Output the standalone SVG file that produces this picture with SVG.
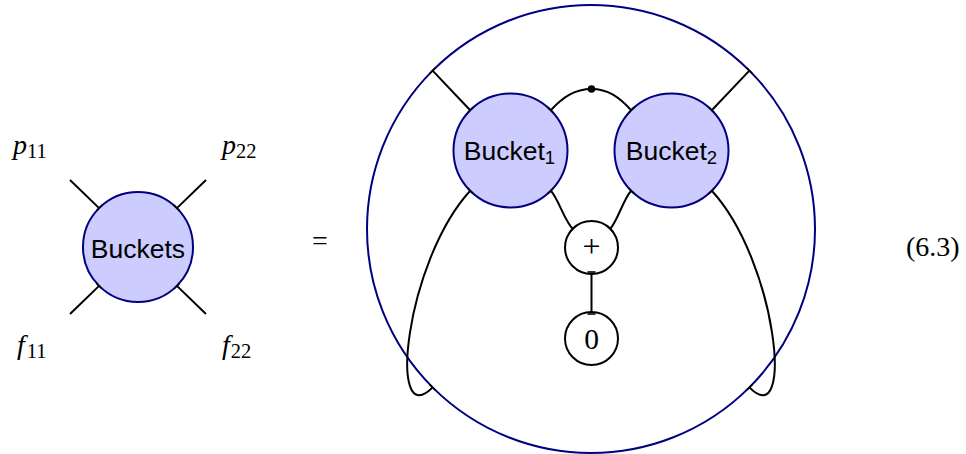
<svg xmlns="http://www.w3.org/2000/svg" width="966" height="454" viewBox="0 0 966 454">
<style>
.bucket{fill:#ccccff;stroke:#000080;stroke-width:2}
.outer{fill:none;stroke:#000080;stroke-width:2}
.op{fill:#ffffff;stroke:#000000;stroke-width:2}
.wire{fill:none;stroke:#000000;stroke-width:2}
.tick{stroke:#000000;stroke-width:1.6}
.sans{font-family:"Liberation Sans","DejaVu Sans",sans-serif;font-size:26.5px;fill:#000}
.math{font-family:"Liberation Serif","DejaVu Serif",serif;font-size:28px;fill:#000}
.it{font-style:italic}
.sub{font-size:20.5px}
.ssub{font-size:18.5px}
</style>
<rect width="966" height="454" fill="#ffffff"/>

<g id="outer-circle">
<circle class="outer" cx="591" cy="229" r="224"/>
</g>

<g id="connectors">
<line class="wire" x1="70" y1="180" x2="99.1" y2="208.1"/>
<line class="wire" x1="206" y1="180" x2="176.9" y2="208.1"/>
<line class="wire" x1="70" y1="314" x2="99.1" y2="285.9"/>
<line class="wire" x1="206" y1="314" x2="176.9" y2="285.9"/>
<line class="wire" x1="432.6" y1="70.6" x2="470.2" y2="110.2"/>
<line class="wire" x1="749.4" y1="70.6" x2="711.8" y2="110.2"/>
<path class="wire" d="M550.8,110.2 C563,97 575,89 591.5,89 C608,89 619,97 631.2,110.2"/>
<path class="wire" d="M550.8,190.8 C558,198 565,222 572.8,228.8"/>
<path class="wire" d="M631.2,190.8 C624,198 617,222 610.2,228.8"/>
<line class="wire" x1="591.5" y1="272" x2="591.5" y2="314"/>
<path class="wire" d="M470.2,190.8 C405,262 387,434 432.6,387.4"/>
<path class="wire" d="M711.8,190.8 C777,262 795,434 749.4,387.4"/>
</g>

<g id="node-buckets">
<circle class="bucket" cx="138" cy="247" r="55"/>
<text class="sans" x="138" y="258" text-anchor="middle">Buckets</text>
</g>

<g id="node-bucket1">
<circle class="bucket" cx="510.5" cy="150.5" r="57"/>
<text class="sans" x="509.5" y="160" text-anchor="middle">Bucket<tspan class="ssub" dy="4">1</tspan></text>
</g>

<g id="node-bucket2">
<circle class="bucket" cx="671.5" cy="150.5" r="57"/>
<text class="sans" x="671.5" y="160" text-anchor="middle">Bucket<tspan class="ssub" dy="4">2</tspan></text>
</g>

<g id="node-plus">
<circle class="op" cx="591.5" cy="247.5" r="26.5"/>
<text class="math" x="591.5" y="257" text-anchor="middle" style="font-size:32px">+</text>
</g>

<g id="node-zero">
<circle class="op" cx="591.5" cy="338.5" r="26.5"/>
<text class="math" x="591.5" y="348.5" text-anchor="middle" style="font-size:29.5px">0</text>
</g>

<g id="node-dot">
<circle cx="591.5" cy="89" r="3.8" fill="#000"/>
</g>

<g id="ticks">
<line class="tick" x1="96.3" y1="210.9" x2="101.9" y2="205.3"/>
<line class="tick" x1="174.1" y1="205.3" x2="179.7" y2="210.9"/>
<line class="tick" x1="96.3" y1="283.1" x2="101.9" y2="288.7"/>
<line class="tick" x1="174.1" y1="288.7" x2="179.7" y2="283.1"/>

<line class="tick" x1="467.4" y1="113.0" x2="473.0" y2="107.4"/>
<line class="tick" x1="548.0" y1="107.4" x2="553.6" y2="113.0"/>
<line class="tick" x1="467.4" y1="188.0" x2="473.0" y2="193.6"/>
<line class="tick" x1="548.0" y1="193.6" x2="553.6" y2="188.0"/>

<line class="tick" x1="628.4" y1="113.0" x2="634.0" y2="107.4"/>
<line class="tick" x1="709.0" y1="107.4" x2="714.6" y2="113.0"/>
<line class="tick" x1="628.4" y1="188.0" x2="634.0" y2="193.6"/>
<line class="tick" x1="709.0" y1="193.6" x2="714.6" y2="188.0"/>

<line class="tick" x1="429.8" y1="73.4" x2="435.4" y2="67.8"/>
<line class="tick" x1="746.6" y1="67.8" x2="752.2" y2="73.4"/>
<line class="tick" x1="429.8" y1="384.6" x2="435.4" y2="390.2"/>
<line class="tick" x1="746.6" y1="390.2" x2="752.2" y2="384.6"/>

<line class="tick" x1="570.0" y1="231.6" x2="575.6" y2="226.0"/>
<line class="tick" x1="607.4" y1="226.0" x2="613.0" y2="231.6"/>
<line class="tick" x1="587.5" y1="272" x2="595.5" y2="272"/>
<line class="tick" x1="587.5" y1="314" x2="595.5" y2="314"/>
</g>

<g id="labels">
<text class="math" x="13" y="153.5"><tspan class="it">p</tspan><tspan class="sub" dy="4">11</tspan></text>
<text class="math" x="222" y="153.5"><tspan class="it">p</tspan><tspan class="sub" dy="4">22</tspan></text>
<text class="math" x="17" y="353.5"><tspan class="it">f</tspan><tspan class="sub" dy="4" dx="2">11</tspan></text>
<text class="math" x="222" y="353.5"><tspan class="it">f</tspan><tspan class="sub" dy="4" dx="1">22</tspan></text>
<text class="math" x="320" y="250" text-anchor="middle">=</text>
<text class="math" x="906" y="256">(6.3)</text>
</g>
</svg>
